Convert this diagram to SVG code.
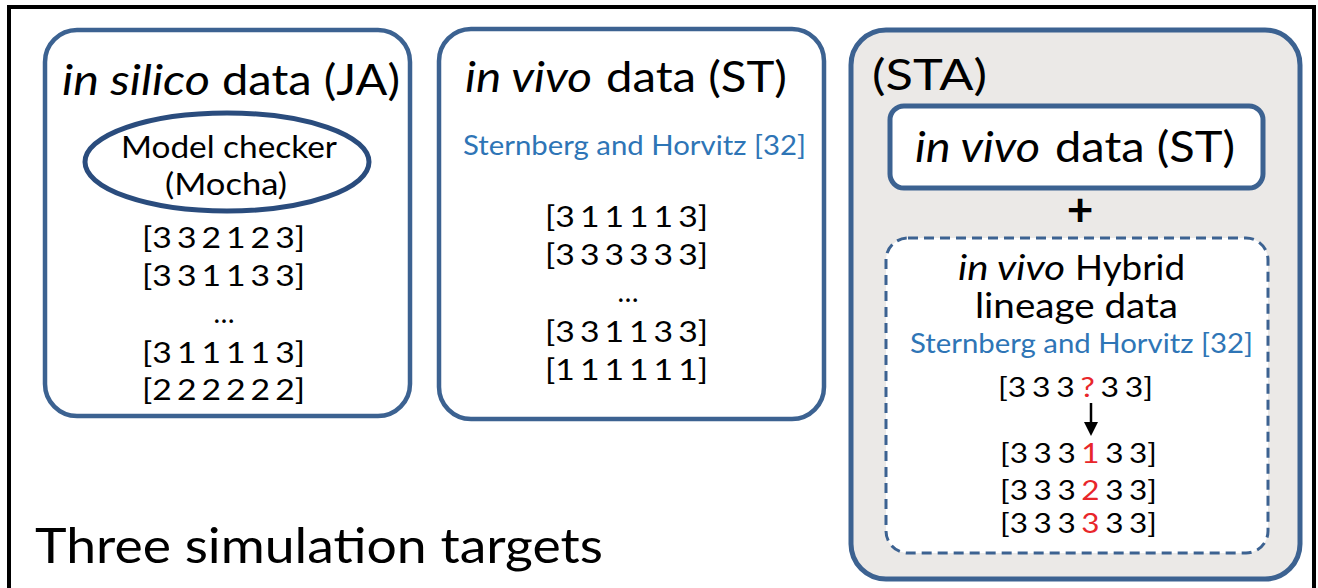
<svg xmlns="http://www.w3.org/2000/svg" width="1318" height="588" viewBox="0 0 1318 588">
<defs>
<style>
.t{font-family:Lato,"Open Sans","Liberation Sans",sans-serif;fill:#000}
.it{font-style:italic}
.box{fill:#fff;stroke:#3c6291;stroke-width:4.5}
.blue{fill:#2e75b6}
.red{fill:#e8262a}
.arr{font-size:28px;word-spacing:-3px;text-anchor:start}
.arr3{font-size:26px;word-spacing:-2px;text-anchor:start}
.title{font-size:43px}
</style>
</defs>
<rect x="0" y="0" width="1318" height="588" fill="#fff"/>
<rect x="9" y="7" width="1305" height="620" fill="#fff" stroke="#000" stroke-width="4"/>

<g id="insilico">
<rect class="box" x="45" y="30" width="365" height="386" rx="32"/>
<text class="t title" y="95"><tspan class="it" x="62" textLength="148" lengthAdjust="spacingAndGlyphs">in silico</tspan><tspan x="222" textLength="178" lengthAdjust="spacingAndGlyphs">data (JA)</tspan></text>
<ellipse cx="227" cy="162" rx="142" ry="49" fill="#fff" stroke="#2a4c7d" stroke-width="5"/>
<text class="t" x="121" y="158" font-size="30" textLength="216" lengthAdjust="spacingAndGlyphs">Model checker</text>
<text class="t" x="165" y="195" font-size="30" textLength="122" lengthAdjust="spacingAndGlyphs">(Mocha)</text>
<text class="t arr" x="142" y="248" textLength="163" lengthAdjust="spacingAndGlyphs">[3 3 2 1 2 3]</text>
<text class="t arr" x="142" y="286" textLength="163" lengthAdjust="spacingAndGlyphs">[3 3 1 1 3 3]</text>
<text class="t" x="224" y="323" font-size="28" text-anchor="middle">…</text>
<text class="t arr" x="142" y="363" textLength="163" lengthAdjust="spacingAndGlyphs">[3 1 1 1 1 3]</text>
<text class="t arr" x="142" y="400" textLength="163" lengthAdjust="spacingAndGlyphs">[2 2 2 2 2 2]</text>
</g>

<g id="invivo">
<rect class="box" x="439" y="29" width="385" height="390" rx="32"/>
<text class="t title" y="92"><tspan class="it" x="465" textLength="127" lengthAdjust="spacingAndGlyphs">in vivo</tspan><tspan x="606" textLength="181" lengthAdjust="spacingAndGlyphs">data (ST)</tspan></text>
<text class="t blue" x="463" y="155" font-size="27" textLength="343" lengthAdjust="spacingAndGlyphs">Sternberg and Horvitz [32]</text>
<text class="t arr" x="545" y="227" textLength="163" lengthAdjust="spacingAndGlyphs">[3 1 1 1 1 3]</text>
<text class="t arr" x="545" y="265" textLength="163" lengthAdjust="spacingAndGlyphs">[3 3 3 3 3 3]</text>
<text class="t" x="628" y="302" font-size="28" text-anchor="middle">…</text>
<text class="t arr" x="545" y="342" textLength="163" lengthAdjust="spacingAndGlyphs">[3 3 1 1 3 3]</text>
<text class="t arr" x="545" y="380" textLength="163" lengthAdjust="spacingAndGlyphs">[1 1 1 1 1 1]</text>
</g>

<g id="sta">
<rect x="851" y="30" width="449" height="549" rx="35" fill="#ebe9e7" stroke="#3c6291" stroke-width="5"/>
<text class="t title" x="872" y="90" textLength="115" lengthAdjust="spacingAndGlyphs">(STA)</text>
</g>

<g id="sta-invivo">
<rect x="890" y="106" width="373" height="82" rx="14" fill="#fff" stroke="#3c6291" stroke-width="5"/>
<text class="t title" y="162"><tspan class="it" x="915" textLength="125" lengthAdjust="spacingAndGlyphs">in vivo</tspan><tspan x="1055" textLength="180" lengthAdjust="spacingAndGlyphs">data (ST)</tspan></text>
</g>

<g id="plus">
<text class="t" x="1080" y="226" font-size="46" font-weight="bold" text-anchor="middle">+</text>
</g>

<g id="hybrid">
<rect x="886" y="238" width="382" height="315" rx="22" fill="#fff" stroke="#3c6291" stroke-width="3" stroke-dasharray="10 6"/>
<text class="t" y="280" font-size="34"><tspan class="it" x="958" textLength="107" lengthAdjust="spacingAndGlyphs">in vivo</tspan><tspan x="1075" textLength="110" lengthAdjust="spacingAndGlyphs">Hybrid</tspan></text>
<text class="t" x="975" y="318" font-size="34" textLength="203" lengthAdjust="spacingAndGlyphs">lineage data</text>
<text class="t blue" x="910" y="353" font-size="27" textLength="343" lengthAdjust="spacingAndGlyphs">Sternberg and Horvitz [32]</text>
<text class="t arr3" x="998" y="397" textLength="155" lengthAdjust="spacingAndGlyphs">[3 3 3 <tspan class="red">?</tspan> 3 3]</text>
<text class="t arr3" x="1000" y="463" textLength="157" lengthAdjust="spacingAndGlyphs">[3 3 3 <tspan class="red">1</tspan> 3 3]</text>
<text class="t arr3" x="1000" y="500" textLength="157" lengthAdjust="spacingAndGlyphs">[3 3 3 <tspan class="red">2</tspan> 3 3]</text>
<text class="t arr3" x="1000" y="533" textLength="157" lengthAdjust="spacingAndGlyphs">[3 3 3 <tspan class="red">3</tspan> 3 3]</text>
</g>

<g id="connectors">
<line x1="1091" y1="403" x2="1091" y2="424" stroke="#000" stroke-width="2.5"/>
<polygon points="1084,422 1098,422 1091,436" fill="#000"/>
</g>

<g id="caption">
<text class="t" x="35" y="563" font-size="49" textLength="568" lengthAdjust="spacingAndGlyphs">Three simulation targets</text>
</g>
</svg>
